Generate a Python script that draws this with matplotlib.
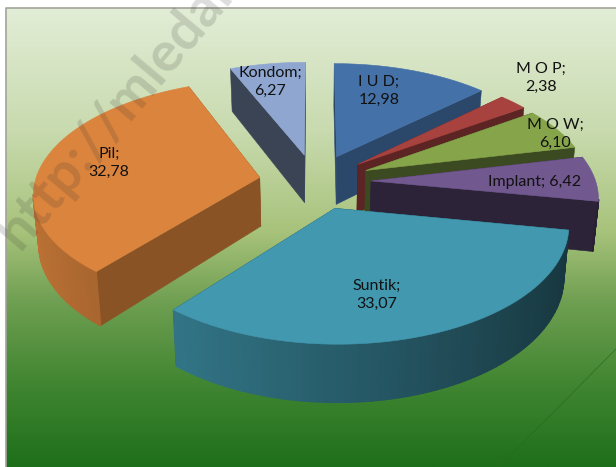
"""3D exploded pie of contraceptive method shares."""

import numpy as np
import matplotlib
matplotlib.use("Agg")
import matplotlib.pyplot as plt
from matplotlib.colors import LinearSegmentedColormap, to_rgb
from matplotlib.patches import Polygon

plt.rcParams["font.family"] = ["Lato", "DejaVu Sans"]

# data, clockwise from 12 o'clock
methods = ["I U D", "M O P", "M O W", "Implant", "Suntik", "Pil", "Kondom"]
shares = [12.98, 2.38, 6.10, 6.42, 33.07, 32.78, 6.27]
share_labels = ["12,98", "2,38", "6,10", "6,42", "33,07", "32,78", "6,27"]

top_colors = ["#4471A7", "#A8423F", "#86A44A", "#71588F", "#4198AF", "#DB843D", "#8FA6D0"]
wall_shade = [0.63, 0.55, 0.45, 0.40, 0.45, 0.63, 0.41]
draw_order = [6, 0, 1, 2, 3, 5, 4]

# label centres in pixels
label_x = [379, 541, 555, 535, 377, 109, 270]
label_y = [91, 78, 134, 182, 295, 163, 82]

# projection of the pie plane onto the picture
CX, CY = 315, 181.5
RADIUS = 224.6
TILT = 0.494
PERSPECTIVE = 0.128
EXPLODE = 0.25
HEIGHT = 49
CONVERGE = 0.02


def project(u, v, drop=0.0):
    w = 1 - PERSPECTIVE * v
    x = CX + RADIUS * u / w * (1 - CONVERGE * drop)
    y = CY + RADIUS * TILT * v / w + drop * HEIGHT / w
    return np.column_stack([x, y])


def shaded(color, factor):
    return tuple(np.clip(np.array(to_rgb(color)) * factor, 0, 1))


def add_face(ax, points, color, lw=0.4, aa=True):
    ax.add_patch(Polygon(points, closed=True, facecolor=color, edgecolor=color, linewidth=lw,
                         antialiased=aa))


def draw_slice(ax, start, end, color, wall):
    mid = (start + end) / 2
    off_u, off_v = EXPLODE * np.sin(mid), -EXPLODE * np.cos(mid)
    t = np.linspace(start, end, 80)
    u = off_u + np.sin(t)
    v = off_v - np.cos(t)

    # the two cut walls
    for k in (0, -1):
        edge_u = np.array([off_u, u[k]])
        edge_v = np.array([off_v, v[k]])
        wall_pts = np.vstack([project(edge_u, edge_v), project(edge_u, edge_v, 1)[::-1]])
        add_face(ax, wall_pts, shaded(color, wall))

    # outer rim, only where it faces the viewer, shaded strip by strip
    rim = project(u, v)
    for i in range(len(t) - 1):
        if rim[i + 1, 0] >= rim[i, 0]:
            continue
        shade = 0.61 + 0.253 * -np.sin(t[i])
        strip = np.vstack([project(u[i:i + 2], v[i:i + 2]),
                           project(u[i:i + 2], v[i:i + 2], 1)[::-1]])
        add_face(ax, strip, shaded(color, shade), lw=1.0)

    # top face
    top = project(np.r_[off_u, u], np.r_[off_v, v])
    add_face(ax, top, color)


fig = plt.figure(figsize=(6.16, 4.67), dpi=100)
ax = fig.add_axes([0, 0, 1, 1])
ax.set_xlim(0, 616)
ax.set_ylim(467, 0)
ax.axis("off")

# chart background
stops = [(0.0, "#E2EDD6"), (0.27, "#C8DAAE"), (0.49, "#A7C27A"), (0.64, "#6F9F52"),
         (0.81, "#438733"), (1.0, "#1E6F1A")]
cmap = LinearSegmentedColormap.from_list("bg", stops)
ax.imshow(np.linspace(0, 1, 256).reshape(-1, 1), cmap=cmap, aspect="auto",
          extent=(6, 616, 467, 8), zorder=0)
ax.set_xlim(0, 616)
ax.set_ylim(467, 0)
ax.plot([6, 6, 616], [467, 8, 8], color="#A3A39B", linewidth=1.2, zorder=1)
ax.plot([616, 499], [349, 467], color="#2A6A25", linewidth=0.8, alpha=0.6, zorder=1)

edges = np.radians(np.r_[0, np.cumsum(shares)] * 3.6)
for idx in draw_order:
    draw_slice(ax, edges[idx], edges[idx + 1], top_colors[idx], wall_shade[idx])

for name, value, x, y in zip(methods, share_labels, label_x, label_y):
    sep = " " if name == "Implant" else "\n"
    ax.text(x, y, f"{name};{sep}{value}", ha="center", va="center", fontsize=11.5,
            color="#111111", linespacing=1.3, zorder=20)

# watermark across the upper left
ax.text(120, 106, "http://mledan", rotation=50, rotation_mode="anchor", ha="center", va="center",
        fontsize=40, fontweight="bold", color="#333333", alpha=0.17, zorder=15, clip_on=True)

fig.savefig("out.png", dpi=100)
